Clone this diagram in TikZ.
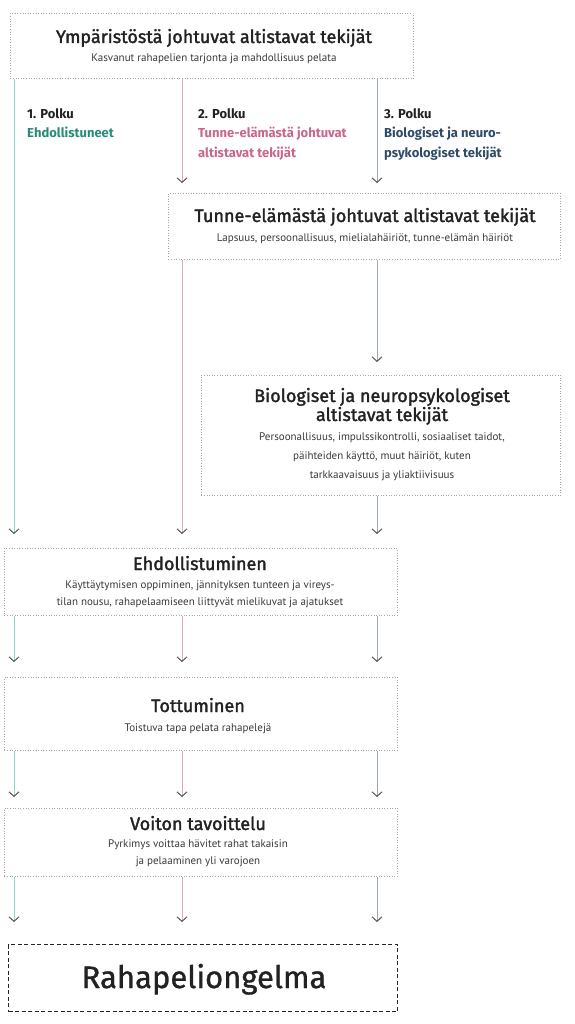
\documentclass[tikz,border=0pt]{standalone}
\usepackage{fontspec}
\usetikzlibrary{arrows.meta}
\newfontfamily\titlefont[FakeBold=1.8]{Fira Sans}
\newfontfamily\bigfont[FakeBold=1.0]{Fira Sans}
\newfontfamily\subfont{PT Sans}
\newfontfamily\lblfont{Fira Sans}
\definecolor{lgreen}{HTML}{8FD6CB}
\definecolor{lpink}{HTML}{E2A9BA}
\definecolor{lblue}{HTML}{9CA9B5}
\definecolor{tgreen}{HTML}{2A8C78}
\definecolor{tpink}{HTML}{C8668C}
\definecolor{tblue}{HTML}{2F4B66}
\definecolor{txt}{HTML}{222222}
\definecolor{subtxt}{HTML}{3A3A3A}
\definecolor{tipc}{HTML}{555555}
\begin{document}
\begin{tikzpicture}[x=1pt,y=-1pt,
  box/.style={draw=gray!70, line width=0.8pt, dash pattern=on 0.8pt off 1.8pt, inner sep=0pt, anchor=north west},
  finalbox/.style={draw=gray!30!black, line width=1.1pt, dash pattern=on 4pt off 2.5pt, inner sep=0pt, anchor=north west},
  ttl/.style={font=\titlefont\fontsize{18}{18}\selectfont, text=txt, anchor=base, inner sep=0pt},
  sub/.style={font=\subfont\fontsize{11}{11}\selectfont, text=subtxt, anchor=base, inner sep=0pt},
  lbl/.style={font=\lblfont\bfseries\fontsize{13}{13}\selectfont, anchor=base west, inner sep=0pt},
  conn/.style={line width=1pt, -{Straight Barb[length=4.5pt,width=10pt,line width=1pt,color=tipc]}},
]
\useasboundingbox (0,0) rectangle (574,1024);
\fill[white] (0,0) rectangle (574,1024);

% boxes
\node[box, minimum width=403pt, minimum height=65pt] (top) at (10,13) {};
\node[box, minimum width=392pt, minimum height=66pt] (tun) at (168,193) {};
\node[box, minimum width=359pt, minimum height=120pt] (bio) at (201,375) {};
\node[box, minimum width=393pt, minimum height=67pt] (ehd) at (4,548) {};
\node[box, minimum width=393pt, minimum height=73pt] (tot) at (4,677) {};
\node[box, minimum width=393pt, minimum height=68pt] (voi) at (4,808) {};
\node[finalbox, minimum width=389pt, minimum height=67pt] (rah) at (8,944) {};

% column coordinates
\coordinate (cg) at (14,0);
\coordinate (cp) at (182,0);
\coordinate (cb) at (377,0);

% texts
\node[ttl] (t1) at (214,43) {Ympäristöstä johtuvat altistavat tekijät};
\node[sub] (s1) at (214,62) {Kasvanut rahapelien tarjonta ja mahdollisuus pelata};

\node[lbl, text=txt] (p1) at (27,119) {1. Polku};
\node[lbl, text=tgreen] (p1b) at (27,138) {Ehdollistuneet};
\node[lbl, text=txt] (p2) at (198,119) {2. Polku};
\node[lbl, text=tpink] (p2b) at (198,138) {Tunne-elämästä johtuvat};
\node[lbl, text=tpink] (p2c) at (198,158) {altistavat tekijät};
\node[lbl, text=txt] (p3) at (384,119) {3. Polku};
\node[lbl, text=tblue] (p3b) at (384,138) {Biologiset ja neuro-};
\node[lbl, text=tblue] (p3c) at (384,158) {psykologiset tekijät};

\node[ttl] (t2) at (365,222) {Tunne-elämästä johtuvat altistavat tekijät};
\node[sub] (s2) at (365,241) {Lapsuus, persoonallisuus, mielialahäiriöt, tunne-elämän häiriöt};

\node[ttl] (t3a) at (382,402) {Biologiset ja neuropsykologiset};
\node[ttl] (t3b) at (382,421) {altistavat tekijät};
\node[sub] (s3a) at (382,440) {Persoonallisuus, impulssikontrolli, sosiaaliset taidot,};
\node[sub] (s3b) at (382,459) {päihteiden käyttö, muut häiriöt, kuten};
\node[sub] (s3c) at (382,478) {tarkkaavaisuus ja yliaktiivisuus};

\node[ttl] (t4) at (200,570) {Ehdollistuminen};
\node[sub] (s4a) at (200,588) {Käyttäytymisen oppiminen, jännityksen tunteen ja vireys-};
\node[sub] (s4b) at (200,605) {tilan nousu, rahapelaamiseen liittyvät mielikuvat ja ajatukset};

\node[ttl] (t5) at (198,712) {Tottuminen};
\node[sub] (s5) at (198,731) {Toistuva tapa pelata rahapelejä};

\node[ttl] (t6) at (198,830) {Voiton tavoittelu};
\node[sub] (s6a) at (198,847) {Pyrkimys voittaa hävitet rahat takaisin};
\node[sub] (s6b) at (198,864) {ja pelaaminen yli varojoen};

\node[font=\bigfont\fontsize{31}{31}\selectfont, text=txt, anchor=base, inner sep=0pt] (t7) at (204,988) {Rahapeliongelma};

% connectors
\draw[conn, lgreen, shorten >=14pt] (top.south -| cg) -- (ehd.north -| cg);
\draw[conn, lpink, shorten >=10pt] (top.south -| cp) -- (tun.north -| cp);
\draw[conn, lblue, shorten >=10pt] (top.south -| cb) -- (tun.north -| cb);
\draw[conn, lpink, shorten >=14pt] (tun.south -| cp) -- (ehd.north -| cp);
\draw[conn, lblue, shorten >=13pt] (tun.south -| cb) -- (bio.north -| cb);
\draw[conn, lblue, shorten >=14pt] (bio.south -| cb) -- (ehd.north -| cb);

\draw[conn, lgreen, shorten >=15pt] (ehd.south -| cg) -- (tot.north -| cg);
\draw[conn, lpink, shorten >=15pt] (ehd.south -| cp) -- (tot.north -| cp);
\draw[conn, lblue, shorten >=15pt] (ehd.south -| cb) -- (tot.north -| cb);
\draw[conn, lgreen, shorten >=11pt] (tot.south -| cg) -- (voi.north -| cg);
\draw[conn, lpink, shorten >=11pt] (tot.south -| cp) -- (voi.north -| cp);
\draw[conn, lblue, shorten >=11pt] (tot.south -| cb) -- (voi.north -| cb);
\draw[conn, lgreen, shorten >=22pt] (voi.south -| cg) -- (rah.north -| cg);
\draw[conn, lpink, shorten >=22pt] (voi.south -| cp) -- (rah.north -| cp);
\draw[conn, lblue, shorten >=22pt] (voi.south -| cb) -- (rah.north -| cb);
\end{tikzpicture}
\end{document}
